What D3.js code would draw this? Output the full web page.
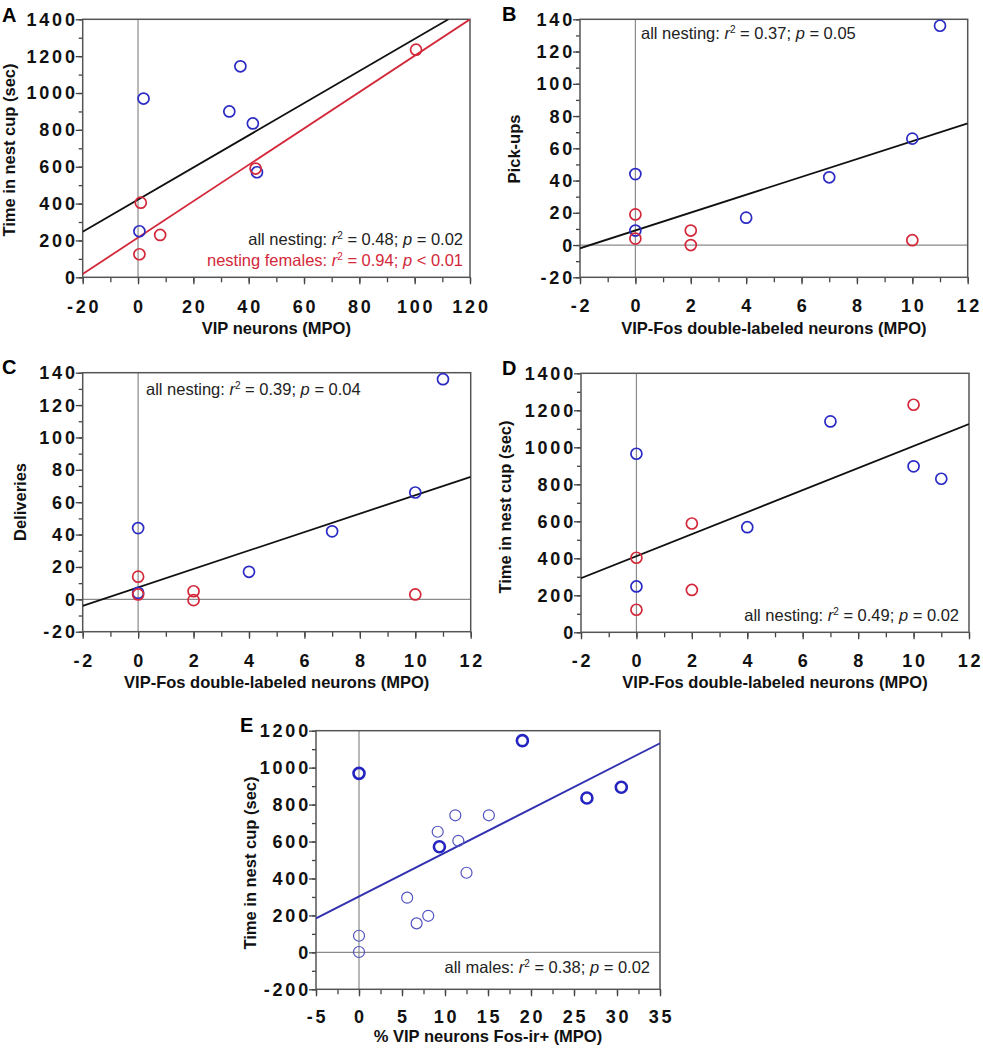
<!DOCTYPE html>
<html>
<head>
<meta charset="utf-8">
<script src="https://cdn.jsdelivr.net/npm/d3@7"></script>
<style>
  html, body { margin: 0; padding: 0; background: #fff; }
  svg { display: block; font-family: "Liberation Sans", Arial, Helvetica, sans-serif; }
</style>
</head>
<body>
<svg id="chart" width="983" height="1050"></svg>
<script>
// ---------------- DATA ----------------
// Panel A: VIP neurons (MPO) vs time in nest cup
const vipBlue = [2, 33, 37, 41.5, 43, 0.5];
const timeBlueA = [970, 900, 1145, 835, 570, 250];
const vipRed = [1, 42.5, 0.5, 8, 100.5];
const timeRedA = [405, 590, 125, 230, 1235];
const fitA_all = { x: [-20, 112.2], y: [247, 1400] };
const fitA_fem = { x: [-20, 120], y: [18, 1400] };

// Panels B, C, D: VIP-Fos double-labeled neurons (MPO)
const fosBlue = [0, 0, 4, 7, 10, 11];
const fosRed = [0, 0, 2, 2, 10];
const pickBlue = [44, 9, 17, 42, 66, 136];
const pickRed = [19, 4, 9, 0, 3];
const fitB = { x: [-2, 12], y: [-2, 75.5] };
const delivBlue = [44, 4, 17, 42, 66, 136];
const delivRed = [14, 3, 5, -0.5, 3];
const fitC = { x: [-2, 12], y: [-4, 75.7] };
const timeBlueD = [965, 248, 568, 1140, 897, 830];
const timeRedD = [403, 122, 588, 229, 1230];
const fitD = { x: [-2, 12], y: [292, 1126] };

// Panel E: % VIP neurons Fos-ir+ (MPO), males
const pctE = [0, 0, 0, 5.6, 6.7, 8.05, 9.15, 9.35, 11.2, 11.55, 12.5, 15.1, 19, 26.5, 30.5];
const timeE = [969, 90, 2, 296, 157, 198, 653, 572, 742, 604, 431, 742, 1146, 836, 894];
const boldE = [1, 0, 0, 0, 0, 0, 0, 1, 0, 0, 0, 0, 1, 1, 1];
const fitE = { x: [-5, 35], y: [184, 1132] };

// Tick labels
const xTicksA = [-20, 0, 20, 40, 60, 80, 100, 120];
const yTicksA = [0, 200, 400, 600, 800, 1000, 1200, 1400];
const xTicksFos = [-2, 0, 2, 4, 6, 8, 10, 12];
const yTicksCount = [-20, 0, 20, 40, 60, 80, 100, 120, 140];
const xTicksE = [-5, 0, 5, 10, 15, 20, 25, 30, 35];
const yTicksE = [-200, 0, 200, 400, 600, 800, 1000, 1200];

// ---------------- STYLE ----------------
const BLUE = "#2a2ac4";
const BLUE_E_THIN = "#5252c2";
const RED = "#d3283a";
const BLACK = "#111";
const FRAME = "#555";
const ZERO = "#8a8a8a";

const svg = d3.select("#chart");
svg.append("rect").attr("width", 983).attr("height", 1050).attr("fill", "#fff");

let clipId = 0;
function drawPanel(cfg) {
  const { l, t, w, h } = cfg.box;
  const g = svg.append("g").attr("transform", `translate(${l},${t})`);
  const x = d3.scaleLinear().domain(cfg.xDom).range([0, w]);
  const y = d3.scaleLinear().domain(cfg.yDom).range([h, 0]);

  const cid = "clip" + (clipId++);
  g.append("clipPath").attr("id", cid).append("rect").attr("width", w).attr("height", h);

  // zero reference lines
  if (cfg.zeroX) g.append("line").attr("x1", x(0)).attr("x2", x(0)).attr("y1", 0).attr("y2", h)
    .attr("stroke", ZERO).attr("stroke-width", 1.2);
  if (cfg.zeroY) g.append("line").attr("x1", 0).attr("x2", w).attr("y1", y(0)).attr("y2", y(0))
    .attr("stroke", ZERO).attr("stroke-width", 1.2);

  // minor + major ticks
  const xMinor = d3.range(cfg.xDom[0], cfg.xDom[1] + 1e-9, cfg.xMinor);
  const yMinor = d3.range(cfg.yDom[0], cfg.yDom[1] + 1e-9, cfg.yMinor);
  const axB = g.append("g").attr("transform", `translate(0,${h})`)
    .call(d3.axisBottom(x).tickValues(xMinor).tickSize(5).tickFormat(""));
  const axB2 = g.append("g").attr("transform", `translate(0,${h})`)
    .call(d3.axisBottom(x).tickValues(cfg.xTicks).tickSize(7).tickFormat(""));
  const axL = g.append("g")
    .call(d3.axisLeft(y).tickValues(yMinor).tickSize(4).tickFormat(""));
  const axL2 = g.append("g")
    .call(d3.axisLeft(y).tickValues(cfg.yTicks).tickSize(7).tickFormat(""));
  [axB, axB2, axL, axL2].forEach(a => {
    a.select(".domain").remove();
    a.selectAll(".tick line").attr("stroke", "#444").attr("stroke-width", 1.3);
  });

  // frame
  g.append("rect").attr("width", w).attr("height", h).attr("fill", "none")
    .attr("stroke", FRAME).attr("stroke-width", 1.5);

  // tick labels
  g.selectAll(".xl").data(cfg.xTicks).join("text")
    .attr("x", d => x(d) + 1.5).attr("y", h + cfg.xLabelDy)
    .attr("text-anchor", "middle").attr("font-size", 18).attr("font-weight", "bold")
    .attr("letter-spacing", 2.8).attr("fill", "#111").text(d => d);
  g.selectAll(".yl").data(cfg.yTicks).join("text")
    .attr("x", -5).attr("y", d => y(d)).attr("dy", "0.36em")
    .attr("text-anchor", "end").attr("font-size", 18).attr("font-weight", "bold")
    .attr("letter-spacing", 2.8).attr("fill", "#111").text(d => d);

  // axis titles
  g.append("text").attr("x", w / 2).attr("y", h + cfg.xTitleDy)
    .attr("text-anchor", "middle").attr("font-size", 16.5).attr("font-weight", "bold")
    .attr("fill", "#111").text(cfg.xTitle);
  g.append("text").attr("transform", `translate(${cfg.yTitleX - l},${cfg.yTitleY - t}) rotate(-90)`)
    .attr("text-anchor", "middle").attr("font-size", 16.5).attr("font-weight", "bold")
    .attr("fill", "#111").text(cfg.yTitle);

  // panel letter
  svg.append("text").attr("x", cfg.letter[0]).attr("y", cfg.letter[1])
    .attr("font-size", 20).attr("font-weight", "bold").attr("fill", "#000").text(cfg.id);

  // fit lines
  const lineGen = d3.line().x(d => x(d[0])).y(d => y(d[1]));
  cfg.fits.forEach(f => {
    g.append("path").attr("clip-path", `url(#${cid})`)
      .attr("d", lineGen(d3.zip(f.data.x, f.data.y)))
      .attr("fill", "none").attr("stroke", f.color).attr("stroke-width", 1.8);
  });

  // points
  cfg.series.forEach(s => {
    g.selectAll(null).data(d3.zip(s.x, s.y, s.bold || s.x.map(() => 0))).join("circle")
      .attr("cx", d => x(d[0])).attr("cy", d => y(d[1])).attr("r", 5.5)
      .attr("fill", "none")
      .attr("stroke", d => d[2] ? s.boldColor : s.color)
      .attr("stroke-width", d => d[2] ? 2.6 : s.sw);
  });

  // annotations
  cfg.notes.forEach(n => {
    const tx = g.append("text").attr("x", n.x - l).attr("y", n.y - t)
      .attr("text-anchor", n.anchor).attr("font-size", 16.5).attr("fill", n.color);
    tx.append("tspan").text(n.label + ": ");
    tx.append("tspan").attr("font-style", "italic").text("r");
    tx.append("tspan").attr("font-size", 10).attr("dy", -6).text("2");
    tx.append("tspan").attr("dy", 6).text(" = " + n.r2 + "; ");
    tx.append("tspan").attr("font-style", "italic").text("p");
    tx.append("tspan").text(" " + n.p);
  });
}

const fosTitle = "VIP-Fos double-labeled neurons (MPO)";
const nestTitle = "Time in nest cup (sec)";

drawPanel({
  id: "A", box: { l: 82.7, t: 19.3, w: 387.3, h: 258 },
  xDom: [-20, 120], yDom: [0, 1400], xTicks: xTicksA, yTicks: yTicksA, xMinor: 10, yMinor: 100,
  xLabelDy: 36, xTitleDy: 57, xTitle: "VIP neurons (MPO)", yTitle: nestTitle,
  yTitleX: 15, yTitleY: 150, letter: [2, 22], zeroX: true, zeroY: false,
  fits: [{ data: fitA_all, color: BLACK }, { data: fitA_fem, color: RED }],
  series: [{ x: vipBlue, y: timeBlueA, color: BLUE, sw: 1.7 }, { x: vipRed, y: timeRedA, color: RED, sw: 1.7 }],
  notes: [
    { x: 463, y: 245, anchor: "end", color: "#222", label: "all nesting", r2: "0.48", p: "= 0.02" },
    { x: 463, y: 266, anchor: "end", color: RED, label: "nesting females", r2: "0.94", p: "< 0.01" }
  ]
});

drawPanel({
  id: "B", box: { l: 580, t: 19.3, w: 387.7, h: 258 },
  xDom: [-2, 12], yDom: [-20, 140], xTicks: xTicksFos, yTicks: yTicksCount, xMinor: 1, yMinor: 10,
  xLabelDy: 35, xTitleDy: 57, xTitle: fosTitle, yTitle: "Pick-ups",
  yTitleX: 520, yTitleY: 149, letter: [502, 21], zeroX: true, zeroY: true,
  fits: [{ data: fitB, color: BLACK }],
  series: [{ x: fosBlue, y: pickBlue, color: BLUE, sw: 1.7 }, { x: fosRed, y: pickRed, color: RED, sw: 1.7 }],
  notes: [{ x: 641, y: 39, anchor: "start", color: "#222", label: "all nesting", r2: "0.37", p: "= 0.05" }]
});

drawPanel({
  id: "C", box: { l: 82.7, t: 372.7, w: 388, h: 259 },
  xDom: [-2, 12], yDom: [-20, 140], xTicks: xTicksFos, yTicks: yTicksCount, xMinor: 1, yMinor: 10,
  xLabelDy: 35, xTitleDy: 56, xTitle: fosTitle, yTitle: "Deliveries",
  yTitleX: 26, yTitleY: 502, letter: [2, 374], zeroX: true, zeroY: true,
  fits: [{ data: fitC, color: BLACK }],
  series: [{ x: fosBlue, y: delivBlue, color: BLUE, sw: 1.7 }, { x: fosRed, y: delivRed, color: RED, sw: 1.7 }],
  notes: [{ x: 146, y: 395, anchor: "start", color: "#222", label: "all nesting", r2: "0.39", p: "= 0.04" }]
});

drawPanel({
  id: "D", box: { l: 581, t: 373.3, w: 388, h: 259 },
  xDom: [-2, 12], yDom: [0, 1400], xTicks: xTicksFos, yTicks: yTicksA, xMinor: 1, yMinor: 100,
  xLabelDy: 35, xTitleDy: 56, xTitle: fosTitle, yTitle: nestTitle,
  yTitleX: 511, yTitleY: 507, letter: [502, 375], zeroX: true, zeroY: false,
  fits: [{ data: fitD, color: BLACK }],
  series: [{ x: fosBlue, y: timeBlueD, color: BLUE, sw: 1.7 }, { x: fosRed, y: timeRedD, color: RED, sw: 1.7 }],
  notes: [{ x: 959, y: 621, anchor: "end", color: "#222", label: "all nesting", r2: "0.49", p: "= 0.02" }]
});

drawPanel({
  id: "E", box: { l: 316, t: 730.7, w: 344, h: 258.6 },
  xDom: [-5, 35], yDom: [-200, 1200], xTicks: xTicksE, yTicks: yTicksE, xMinor: 2.5, yMinor: 100,
  xLabelDy: 34, xTitleDy: 53, xTitle: "% VIP neurons Fos-ir+ (MPO)", yTitle: nestTitle,
  yTitleX: 256, yTitleY: 863, letter: [240, 732], zeroX: true, zeroY: true,
  fits: [{ data: fitE, color: "#3030b0" }],
  series: [{ x: pctE, y: timeE, bold: boldE, color: BLUE_E_THIN, boldColor: "#2424c0", sw: 1.2 }],
  notes: [{ x: 650, y: 973, anchor: "end", color: "#222", label: "all males", r2: "0.38", p: "= 0.02" }]
});
</script>
</body>
</html>
